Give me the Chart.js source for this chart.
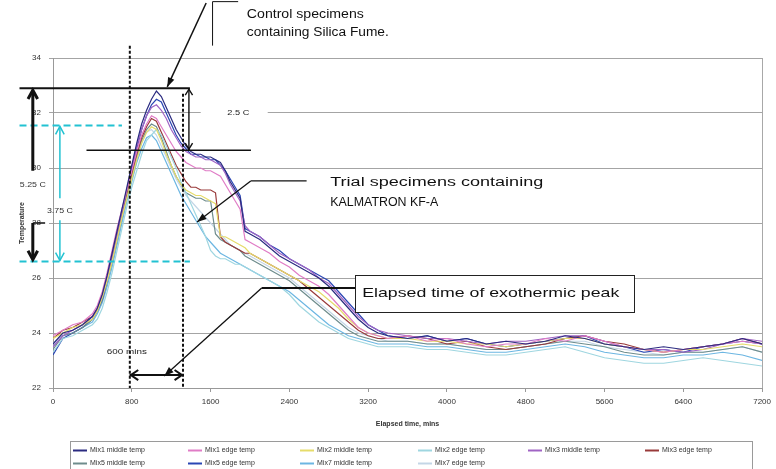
<!DOCTYPE html>
<html>
<head>
<meta charset="utf-8">
<script src="https://cdn.jsdelivr.net/npm/chart.js@4/dist/chart.umd.min.js"></script>
<style>
  html, body { margin: 0; padding: 0; background: #fff; }
  #wrap { width: 776px; height: 469px; position: relative; }
</style>
</head>
<body>
<div id="wrap"><canvas id="c"></canvas></div>
<script>
// Elapsed time (minutes) shared by all logged channels
const minutes = [
  0, 100, 200, 300, 400, 450, 500, 550, 600, 650,
  700, 750, 800, 850, 900, 950, 1000, 1050, 1100, 1150,
  1200, 1250, 1300, 1350, 1400, 1450, 1500, 1550, 1600, 1650,
  1700, 1750, 1800, 1850, 1900, 1950, 2000, 2100, 2200, 2300,
  2400, 2500, 2600, 2700, 2800, 2900, 3000, 3100, 3200, 3300,
  3400, 3600, 3800, 4000, 4200, 4400, 4600, 4800, 5000, 5200,
  5400, 5600, 5800, 6000, 6200, 6400, 6600, 6800, 7000, 7200
];

// Temperatures (°C) per thermocouple
const mix1Middle = [
  23.6, 24.0, 24.1, 24.3, 24.6, 24.9, 25.4, 26.1, 26.9, 27.7,
  28.5, 29.3, 30.1, 30.9, 31.6, 32.1, 32.5, 32.8, 32.6, 32.2,
  31.8, 31.4, 31.1, 30.8, 30.6, 30.5, 30.5, 30.4, 30.4, 30.3,
  30.2, 29.9, 29.5, 29.2, 28.9, 27.7, 27.6, 27.4, 27.1, 26.8,
  26.6, 26.4, 26.2, 26.0, 25.7, 25.3, 24.9, 24.5, 24.2, 24.0,
  23.9, 23.8, 23.9, 23.7, 23.8, 23.6, 23.7, 23.6, 23.7, 23.9,
  23.8, 23.6, 23.5, 23.4, 23.5, 23.4, 23.5, 23.6, 23.8, 23.6
];
const mix1Edge = [
  23.9, 24.1, 24.3, 24.4, 24.7, 25.0, 25.5, 26.2, 27.0, 27.8,
  28.5, 29.2, 29.9, 30.6, 31.2, 31.6, 31.9, 31.8, 31.5, 31.2,
  30.9, 30.6, 30.4, 30.2, 30.1, 30.0, 30.0, 29.9, 29.9, 29.8,
  29.7, 29.4, 29.1, 28.8, 28.5, 27.4, 27.3, 27.1, 26.9, 26.6,
  26.4, 26.1, 25.9, 25.7, 25.4, 25.0, 24.6, 24.2, 24.0, 23.9,
  23.8, 23.9, 23.7, 23.8, 23.6, 23.5, 23.6, 23.6, 23.8, 23.7,
  23.9, 23.7, 23.5, 23.4, 23.3, 23.4, 23.5, 23.6, 23.7, 23.6
];
const mix2Middle = [
  23.8, 24.0, 24.2, 24.3, 24.5, 24.8, 25.3, 25.9, 26.6, 27.4,
  28.2, 28.9, 29.6, 30.3, 30.9, 31.3, 31.5, 31.4, 31.0, 30.5,
  30.1, 29.7, 29.4, 29.2, 29.1, 29.0, 29.0, 28.9, 28.8, 28.7,
  27.5, 27.5, 27.4, 27.3, 27.2, 27.1, 26.9, 26.7, 26.5, 26.3,
  26.1, 25.9, 25.7, 25.5, 25.2, 24.9, 24.5, 24.2, 24.0, 23.9,
  23.8, 23.8, 23.7, 23.7, 23.6, 23.6, 23.5, 23.6, 23.7, 23.8,
  23.8, 23.6, 23.5, 23.4, 23.3, 23.4, 23.4, 23.5, 23.6, 23.5
];
const mix2Edge = [
  23.3, 23.8, 23.9, 24.1, 24.3, 24.5, 24.9, 25.5, 26.2, 27.0,
  27.8, 28.6, 29.3, 29.9, 30.5, 31.0, 31.2, 31.4, 31.2, 30.8,
  30.4, 30.0, 29.5, 29.1, 28.7, 28.3, 27.9, 27.5, 27.0, 26.8,
  26.7, 26.7, 26.6, 26.5, 26.5, 26.4, 26.3, 26.1, 25.9, 25.7,
  25.4, 25.0, 24.7, 24.4, 24.2, 24.0, 23.8, 23.7, 23.6, 23.5,
  23.5, 23.5, 23.4, 23.4, 23.3, 23.2, 23.2, 23.3, 23.4, 23.5,
  23.3, 23.1, 23.0, 22.9, 22.9, 23.0, 23.1, 23.0, 22.9, 22.8
];
const mix3Middle = [
  23.5, 23.9, 24.1, 24.3, 24.6, 24.9, 25.3, 26.0, 26.8, 27.6,
  28.4, 29.2, 30.0, 30.8, 31.4, 31.9, 32.2, 32.3, 32.1, 31.8,
  31.4, 31.1, 30.8, 30.6, 30.5, 30.4, 30.4, 30.3, 30.3, 30.2,
  30.1, 29.8, 29.4, 29.1, 28.8, 27.9, 27.7, 27.5, 27.2, 26.9,
  26.7, 26.5, 26.3, 26.0, 25.8, 25.4, 25.0, 24.6, 24.3, 24.1,
  24.0, 23.9, 23.8, 23.8, 23.7, 23.6, 23.7, 23.7, 23.8, 23.9,
  23.9, 23.7, 23.5, 23.4, 23.4, 23.3, 23.4, 23.6, 23.8, 23.7
];
const mix3Edge = [
  23.8, 24.1, 24.2, 24.4, 24.6, 24.9, 25.4, 26.0, 26.8, 27.6,
  28.4, 29.1, 29.8, 30.5, 31.1, 31.5, 31.8, 31.7, 31.3, 30.9,
  30.5, 30.1, 29.8, 29.5, 29.3, 29.3, 29.2, 29.2, 29.2, 29.1,
  27.5, 27.3, 27.2, 27.1, 27.0, 26.9, 26.9, 26.7, 26.5, 26.3,
  26.1, 25.9, 25.6, 25.3, 25.0, 24.7, 24.4, 24.1, 23.9, 23.8,
  23.8, 23.9, 23.8, 23.6, 23.7, 23.5, 23.4, 23.5, 23.6, 23.8,
  23.9, 23.7, 23.6, 23.4, 23.3, 23.4, 23.5, 23.6, 23.8, 23.6
];
const mix5Middle = [
  23.4, 23.9, 24.0, 24.2, 24.5, 24.8, 25.2, 25.9, 26.6, 27.4,
  28.2, 29.0, 29.7, 30.4, 31.0, 31.4, 31.6, 31.5, 31.1, 30.6,
  30.1, 29.7, 29.4, 29.1, 29.0, 28.9, 28.9, 28.8, 28.8, 27.6,
  27.4, 27.3, 27.2, 27.1, 27.0, 26.8, 26.7, 26.5, 26.3, 26.1,
  25.9, 25.6, 25.3, 25.0, 24.7, 24.4, 24.1, 23.9, 23.8, 23.7,
  23.7, 23.7, 23.6, 23.6, 23.5, 23.4, 23.4, 23.5, 23.6, 23.7,
  23.6, 23.5, 23.3, 23.2, 23.2, 23.3, 23.3, 23.4, 23.5, 23.3
];
const mix5Edge = [
  23.2, 23.8, 24.0, 24.2, 24.5, 24.8, 25.2, 25.9, 26.7, 27.5,
  28.3, 29.1, 29.9, 30.7, 31.4, 31.9, 32.3, 32.5, 32.4, 32.0,
  31.6, 31.2, 30.9, 30.7, 30.5, 30.5, 30.4, 30.4, 30.3, 30.3,
  30.1, 29.9, 29.6, 29.3, 29.0, 27.8, 27.7, 27.5, 27.2, 27.0,
  26.7, 26.5, 26.3, 26.1, 25.9, 25.5, 25.1, 24.7, 24.3, 24.1,
  23.9, 23.8, 23.9, 23.7, 23.8, 23.6, 23.5, 23.6, 23.7, 23.8,
  23.9, 23.6, 23.5, 23.3, 23.4, 23.3, 23.5, 23.6, 23.7, 23.6
];
const mix7Middle = [
  23.5, 23.9, 24.0, 24.2, 24.4, 24.7, 25.1, 25.7, 26.4, 27.2,
  28.0, 28.8, 29.5, 30.2, 30.7, 31.1, 31.2, 31.0, 30.6, 30.2,
  29.8, 29.4, 29.0, 28.7, 28.4, 28.1, 27.8, 27.5, 27.3, 27.1,
  26.9, 26.8, 26.7, 26.6, 26.5, 26.4, 26.3, 26.1, 25.9, 25.7,
  25.5, 25.2, 24.9, 24.6, 24.3, 24.1, 23.9, 23.8, 23.7, 23.6,
  23.6, 23.6, 23.5, 23.5, 23.4, 23.3, 23.3, 23.4, 23.5, 23.6,
  23.5, 23.3, 23.2, 23.1, 23.1, 23.2, 23.2, 23.3, 23.2, 23.0
];
const mix7Edge = [
  23.6, 24.0, 24.1, 24.3, 24.5, 24.8, 25.2, 25.8, 26.5, 27.3,
  28.1, 28.9, 29.6, 30.3, 30.9, 31.3, 31.4, 31.2, 30.8, 30.4,
  30.0, 29.6, 29.3, 29.0, 28.8, 28.6, 28.4, 28.2, 28.0, 27.8,
  27.6, 27.4, 27.2, 27.1, 27.0, 26.9, 26.8, 26.6, 26.4, 26.2,
  26.0, 25.7, 25.4, 25.1, 24.8, 24.5, 24.2, 24.0, 23.9, 23.8,
  23.7, 23.7, 23.6, 23.6, 23.5, 23.4, 23.4, 23.5, 23.6, 23.7,
  23.7, 23.5, 23.4, 23.3, 23.2, 23.3, 23.3, 23.4, 23.5, 23.3
];

const seriesNames = [
  'Mix1 middle temp', 'Mix1 edge temp', 'Mix2 middle temp', 'Mix2 edge temp',
  'Mix3 middle temp', 'Mix3 edge temp', 'Mix5 middle temp', 'Mix5 edge temp',
  'Mix7 middle temp', 'Mix7 edge temp'
];
const seriesValues = [
  mix1Middle, mix1Edge, mix2Middle, mix2Edge, mix3Middle,
  mix3Edge, mix5Middle, mix5Edge, mix7Middle, mix7Edge
];
const seriesColors = [
  '#2b2b80', '#e07cc6', '#e6dc6a', '#9fd6e0', '#a064c4',
  '#993a3a', '#6e8c8c', '#2a46b4', '#6cb6e2', '#c4d6e6'
];

// Axis ticks
const timeTicks = [0, 800, 1600, 2400, 3200, 4000, 4800, 5600, 6400, 7200];
const tempTicks = [22, 24, 26, 28, 30, 32, 34];

// Reference levels used by the callouts (°C and minutes)
const controlPeak = 32.9;     // top of control specimens
const controlShoulder = 30.65;
const trialPeak = 31.55;
const commonBase = 26.6;
const peakWindowStart = 780;
const peakWindowEnd = 1320;

const FONT = '"Liberation Sans", Arial, sans-serif';

function fitText(ctx, str, x, y, w, size, align) {
  ctx.save();
  ctx.font = size + 'px ' + FONT;
  ctx.textBaseline = 'middle';
  ctx.textAlign = 'left';
  const m = ctx.measureText(str).width;
  const s = w ? w / m : 1;
  const start = align === 'center' ? x - (m * s) / 2 : x;
  ctx.translate(start, y);
  ctx.scale(s, 1);
  ctx.fillText(str, 0, 0);
  ctx.restore();
}

function head(ctx, x, y, ang, len, spread, filled) {
  const a1 = ang + Math.PI - spread, a2 = ang + Math.PI + spread;
  ctx.beginPath();
  ctx.moveTo(x + len * Math.cos(a1), y + len * Math.sin(a1));
  ctx.lineTo(x, y);
  ctx.lineTo(x + len * Math.cos(a2), y + len * Math.sin(a2));
  if (filled) { ctx.closePath(); ctx.fill(); } else { ctx.stroke(); }
}

function seg(ctx, a, b) {
  ctx.beginPath(); ctx.moveTo(a[0], a[1]); ctx.lineTo(b[0], b[1]); ctx.stroke();
}

const calloutPlugin = {
  id: 'callouts',
  afterDatasetsDraw(chart) {
    const { ctx, chartArea: ca } = chart;
    const xs = chart.scales.x, ys = chart.scales.y;
    const P = (t, T) => [xs.getPixelForValue(t), ys.getPixelForValue(T)];
    const X = t => xs.getPixelForValue(t);
    const Y = T => ys.getPixelForValue(T);

    ctx.save();
    // plot area right border
    ctx.strokeStyle = '#a8a8a8'; ctx.lineWidth = 1;
    seg(ctx, [Math.round(ca.right) + 0.5, ca.top], [Math.round(ca.right) + 0.5, ca.bottom]);

    // white label backdrops
    ctx.fillStyle = '#fff';
    ctx.fillRect(X(1500), Y(32.3), X(2180) - X(1500), Y(31.7) - Y(32.3));
    ctx.fillRect(X(2700), Y(29.9), X(5050) - X(2700), Y(28.4) - Y(29.9));

    // peak-window dashed verticals
    ctx.strokeStyle = '#111'; ctx.lineWidth = 2; ctx.setLineDash([3, 2]);
    seg(ctx, P(peakWindowStart, 34.45), P(peakWindowStart, 22));
    seg(ctx, P(peakWindowEnd, 32.7), P(peakWindowEnd, 22));
    ctx.setLineDash([]);

    // control peak line and shoulder line
    ctx.lineWidth = 2;
    seg(ctx, P(-340, controlPeak), P(1390, controlPeak));
    ctx.lineWidth = 1.5;
    seg(ctx, P(340, controlShoulder), P(2010, controlShoulder));

    // 2.5 C double arrow
    ctx.lineWidth = 1.4;
    const a1 = P(1380, controlPeak), a2 = P(1380, controlShoulder);
    seg(ctx, a1, a2);
    head(ctx, a1[0], a1[1] + 1, -Math.PI / 2, 7, 0.55, false);
    head(ctx, a2[0], a2[1] - 1, Math.PI / 2, 7, 0.55, false);
    ctx.fillStyle = '#222';
    fitText(ctx, '2.5 C', X(1770), Y(32.0), 22, 8, 'left');

    // cyan guides and 3.75 C arrow
    ctx.strokeStyle = '#22c2d2'; ctx.lineWidth = 2; ctx.setLineDash([7, 4]);
    seg(ctx, P(-340, trialPeak), P(700, trialPeak));
    seg(ctx, P(-340, commonBase), P(1390, commonBase));
    ctx.setLineDash([]);
    ctx.lineWidth = 1.5;
    const c1 = P(70, trialPeak), c2 = P(70, commonBase);
    seg(ctx, [c1[0], c1[1] + 1], [c1[0], Y(28.9)]);
    seg(ctx, [c2[0], Y(28.1)], [c2[0], c2[1] - 1]);
    head(ctx, c1[0], c1[1] + 1, -Math.PI / 2, 9, 0.5, false);
    head(ctx, c2[0], c2[1] - 1, Math.PI / 2, 9, 0.5, false);
    ctx.fillStyle = '#333';
    fitText(ctx, '3.75 C', c1[0], Y(28.45), 26, 8, 'center');

    // 5.25 C thick arrow
    ctx.strokeStyle = '#111'; ctx.lineWidth = 3;
    const b1 = P(-205, controlPeak), b2 = P(-205, commonBase);
    seg(ctx, [b1[0], b1[1] + 3], [b1[0], Y(29.9)]);
    seg(ctx, [b2[0], Y(28.0)], [b2[0], b2[1] - 3]);
    ctx.lineWidth = 1.5;
    seg(ctx, [b2[0], Y(28.0)], [X(-80), Y(28.0)]);
    ctx.lineWidth = 3;
    head(ctx, b1[0], b1[1] + 2, -Math.PI / 2, 10, 0.5, false);
    head(ctx, b2[0], b2[1] - 2, Math.PI / 2, 10, 0.5, false);
    ctx.fillStyle = '#333';
    fitText(ctx, '5.25 C', b1[0], Y(29.38), 26, 8, 'center');

    // 600 mins window arrow
    ctx.strokeStyle = '#111'; ctx.lineWidth = 2;
    const w1 = P(peakWindowStart, 22.47), w2 = P(peakWindowEnd, 22.47);
    seg(ctx, w1, w2);
    head(ctx, w1[0] + 1, w1[1], Math.PI, 9, 0.6, false);
    head(ctx, w2[0] - 1, w2[1], 0, 9, 0.6, false);
    ctx.fillStyle = '#222';
    fitText(ctx, '600 mins', X(750), Y(23.3), 40, 8, 'center');

    // control specimens callout
    ctx.lineWidth = 1.5;
    const k0 = P(1555, 36.0), k1 = P(1160, 32.95);
    seg(ctx, k0, k1);
    ctx.fillStyle = '#111';
    head(ctx, k1[0], k1[1], Math.atan2(k1[1] - k0[1], k1[0] - k0[0]), 10, 0.35, true);
    ctx.lineWidth = 1;
    seg(ctx, P(1620, 36.05), P(1620, 34.45));
    seg(ctx, P(1620, 36.05), P(1880, 36.05));
    ctx.fillStyle = '#111';
    fitText(ctx, 'Control specimens', X(1968), Y(35.56), 117, 12, 'left');
    fitText(ctx, 'containing Silica Fume.', X(1968), Y(34.91), 142, 12, 'left');

    // trial specimens callout
    ctx.lineWidth = 1.3;
    const t0 = P(2575, 29.53), t1 = P(2008, 29.53), t2 = P(1463, 28.04);
    seg(ctx, t0, t1); seg(ctx, t1, t2);
    head(ctx, t2[0], t2[1], Math.atan2(t2[1] - t1[1], t2[0] - t1[0]), 10, 0.35, true);
    fitText(ctx, 'Trial specimens containing', X(2815), Y(29.45), 213, 12, 'left');
    fitText(ctx, 'KALMATRON KF-A', X(2815), Y(28.73), 108, 12, 'left');

    // elapsed time callout
    ctx.lineWidth = 2;
    const e0 = P(3067, 25.64), e1 = P(2119, 25.64), e2 = P(1130, 22.44);
    seg(ctx, e0, e1);
    ctx.lineWidth = 1.3;
    seg(ctx, e1, e2);
    head(ctx, e2[0], e2[1], Math.atan2(e2[1] - e1[1], e2[0] - e1[0]), 10, 0.35, true);
    const bx0 = Math.round(X(3067)) + 0.5, by0 = Math.round(Y(26.11)) + 0.5;
    const bx1 = Math.round(X(5903)) + 0.5, by1 = Math.round(Y(24.76)) + 0.5;
    ctx.fillStyle = '#fff';
    ctx.fillRect(bx0, by0, bx1 - bx0, by1 - by0);
    ctx.strokeStyle = '#222'; ctx.lineWidth = 1;
    ctx.strokeRect(bx0, by0, bx1 - bx0, by1 - by0);
    ctx.fillStyle = '#111';
    fitText(ctx, 'Elapsed time of exothermic peak', X(3140), Y(25.45), 257, 13, 'left');

    ctx.restore();
  }
};

// grid-style legend beneath the plot
const legendPlugin = {
  id: 'gridLegend',
  afterDraw(chart) {
    const { ctx } = chart;
    const cols = [73, 188, 300, 418, 528, 645];
    const rows = [450, 463];
    ctx.save();
    ctx.strokeStyle = '#9a9a9a'; ctx.lineWidth = 1;
    ctx.strokeRect(70.5, 441.5, 682, 32);
    chart.data.datasets.forEach((ds, i) => {
      const x = cols[i % 6], y = rows[Math.floor(i / 6)];
      ctx.strokeStyle = ds.borderColor; ctx.lineWidth = 2;
      seg(ctx, [x, y + 0.5], [x + 14, y + 0.5]);
      ctx.fillStyle = '#333';
      fitText(ctx, ds.label, x + 17, y, null, 7, 'left');
    });
    ctx.restore();
  }
};

new Chart(document.getElementById('c'), {
  type: 'line',
  data: {
    datasets: seriesNames.map((name, i) => ({
      label: name,
      data: minutes.map((t, j) => ({ x: t, y: seriesValues[i][j] })),
      borderColor: seriesColors[i],
      backgroundColor: seriesColors[i],
      borderWidth: 1.2,
      pointRadius: 0,
      tension: 0,
      fill: false
    }))
  },
  options: {
    responsive: true,
    maintainAspectRatio: false,
    animation: false,
    devicePixelRatio: 1,
    layout: { padding: { top: 58, right: 9, bottom: 37, left: 0 } },
    plugins: { legend: { display: false }, tooltip: { enabled: false } },
    scales: {
      x: {
        type: 'linear',
        min: timeTicks[0],
        max: timeTicks[timeTicks.length - 1],
        afterBuildTicks(scale) { scale.ticks = timeTicks.map(v => ({ value: v })); },
        afterFit(scale) { scale.height = 44; },
        ticks: {
          font: { family: FONT, size: 8 }, color: '#333', padding: 5, maxRotation: 0,
          callback: v => String(v)
        },
        grid: { drawOnChartArea: false, tickLength: 4, color: '#999' },
        border: { color: '#999' },
        title: {
          display: true, text: 'Elapsed time, mins', color: '#333',
          font: { family: FONT, size: 7, weight: 'bold' }, padding: { top: 2, bottom: 4 }
        }
      },
      y: {
        min: tempTicks[0],
        max: tempTicks[tempTicks.length - 1],
        afterBuildTicks(scale) { scale.ticks = tempTicks.map(v => ({ value: v })); },
        afterFit(scale) { scale.width = 53; },
        ticks: { font: { family: FONT, size: 8 }, color: '#333', padding: 8, callback: v => String(v) },
        grid: { color: '#a4a4a4', tickLength: 4 },
        border: { color: '#999' },
        title: {
          display: true, text: 'Temperature', color: '#333',
          font: { family: FONT, size: 7, weight: 'bold' }, padding: { top: 18, bottom: 0 }
        }
      }
    }
  },
  plugins: [calloutPlugin, legendPlugin]
});
</script>
</body>
</html>
